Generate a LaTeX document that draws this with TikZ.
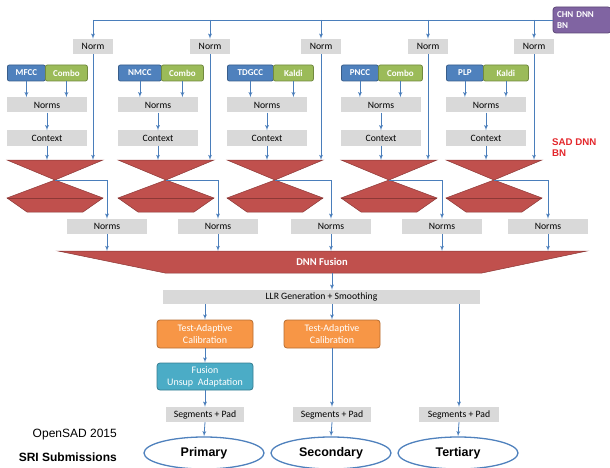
\documentclass[tikz,border=0pt]{standalone}
\usepackage{fontspec}
\setmainfont{Carlito}
\newfontfamily\arialfont{Liberation Sans}
\usetikzlibrary{arrows,shapes.geometric}

\definecolor{normgray}{HTML}{D9D9D9}
\definecolor{featblue}{HTML}{4F81BD}
\definecolor{featblueline}{HTML}{385D8A}
\definecolor{featgreen}{HTML}{9BBB59}
\definecolor{featgreenline}{HTML}{71893F}
\definecolor{calorange}{HTML}{F79646}
\definecolor{calorangeline}{HTML}{B66D31}
\definecolor{adaptteal}{HTML}{4BACC6}
\definecolor{adapttealline}{HTML}{357D91}
\definecolor{chnpurple}{HTML}{8064A2}
\definecolor{chnpurpleline}{HTML}{5C4776}
\definecolor{sadred}{HTML}{C0504D}
\definecolor{sadredline}{HTML}{8C3836}
\definecolor{arrowblue}{HTML}{4A7EBB}
\definecolor{labelred}{HTML}{E3262B}

% bottleneck net: #1 = left edge, #2 = name of the waist
\newcommand{\SadNet}[2]{%
\filldraw[fill=sadred, draw=sadredline, line width=0.5pt] (#1,160) coordinate (#2t) -- ++(96,0) -- ++(-48,20) coordinate (#2) -- cycle;
\filldraw[fill=sadred, draw=sadredline, line width=0.5pt] (#2) -- ++(48,18) -- ++(-20,14) -- ++(-56,0) -- ++(-20,-14) -- cycle;
\draw[sadredline, line width=0.8pt] (#1,198) -- ++(96,0);
}

\begin{document}
\begin{tikzpicture}[x=1pt, y=-1pt]
\tikzstyle{NormBox}=[
fill = normgray,
inner sep = 0pt,
minimum height = 15pt,
font = \fontsize{9.7}{11}\selectfont]
\tikzstyle{FeatA}=[
fill = featblue, draw = featblueline,
line width = 0.8pt, rounded corners = 2pt,
anchor = west, minimum height = 16pt, inner sep = 0pt,
text = white, font = \fontsize{9}{10}\selectfont\bfseries]
\tikzstyle{FeatB}=[FeatA, fill = featgreen, draw = featgreenline]
\tikzstyle{CalBox}=[
fill = calorange, draw = calorangeline,
line width = 0.8pt, rounded corners = 3pt,
minimum width = 96pt, minimum height = 28pt, inner sep = 0pt,
align = center, text = white, font = \fontsize{10}{12}\selectfont]
\tikzstyle{AdaptBox}=[CalBox, fill = adaptteal, draw = adapttealline, minimum height = 27pt]
\tikzstyle{Submission}=[
shape = ellipse, draw = featblue, fill = white,
line width = 1.3pt, minimum width = 120pt, minimum height = 32pt,
font = \arialfont\bfseries\fontsize{12.5}{14}\selectfont]
\tikzstyle{Conn}=[draw = arrowblue, line width = 0.8pt]
\tikzstyle{Arr}=[Conn, -latex']

\useasboundingbox (0,0) rectangle (610,468);

% bottleneck nets
\SadNet{7}{sad1}
\SadNet{118}{sad2}
\SadNet{227}{sad3}
\SadNet{341}{sad4}
\SadNet{446}{sad5}

% CHN net and its norms
\node[fill = chnpurple, draw = chnpurpleline, line width = 0.8pt, rounded corners = 3pt,
minimum width = 58pt, minimum height = 26pt, inner sep = 0pt, text width = 50pt,
align = left, text = white, font = \bfseries\fontsize{9}{11}\selectfont] (chn) at (582,20) {CHN DNN\\BN};
\node[NormBox, minimum width = 40pt] (tn1) at (93,46.5) {Norm};
\node[NormBox, minimum width = 40pt] (tn2) at (210,46.5) {Norm};
\node[NormBox, minimum width = 40pt] (tn3) at (321,46.5) {Norm};
\node[NormBox, minimum width = 40pt] (tn4) at (428,46.5) {Norm};
\node[NormBox, minimum width = 40pt] (tn5) at (534,46.5) {Norm};

% features
\node[FeatA, minimum width = 38pt] (fa1) at (7,73) {MFCC};
\node[FeatB, minimum width = 42pt] (fb1) at (45,73) {Combo};
\node[FeatA, minimum width = 43pt] (fa2) at (118,73) {NMCC};
\node[FeatB, minimum width = 42pt] (fb2) at (161,73) {Combo};
\node[FeatA, minimum width = 46pt] (fa3) at (227,73) {TDGCC};
\node[FeatB, minimum width = 40pt] (fb3) at (273,73) {Kaldi};
\node[FeatA, minimum width = 37pt] (fa4) at (341,73) {PNCC};
\node[FeatB, minimum width = 44pt] (fb4) at (378,73) {Combo};
\node[FeatA, minimum width = 37pt] (fa5) at (446,73) {PLP};
\node[FeatB, minimum width = 45pt] (fb5) at (483,73) {Kaldi};

\node[NormBox, minimum width = 80pt] (nm1) at (47,105) {Norms};
\node[NormBox, minimum width = 80pt] (nm2) at (158,105) {Norms};
\node[NormBox, minimum width = 80pt] (nm3) at (267,105) {Norms};
\node[NormBox, minimum width = 80pt] (nm4) at (381,105) {Norms};
\node[NormBox, minimum width = 80pt] (nm5) at (486,105) {Norms};
\node[NormBox, minimum width = 80pt] (cx1) at (47,138) {Context};
\node[NormBox, minimum width = 80pt] (cx2) at (158,138) {Context};
\node[NormBox, minimum width = 80pt] (cx3) at (267,138) {Context};
\node[NormBox, minimum width = 80pt] (cx4) at (381,138) {Context};
\node[NormBox, minimum width = 80pt] (cx5) at (486,138) {Context};

\node[anchor = north west, align = left, inner sep = 0pt, text = labelred,
font = \arialfont\bfseries\fontsize{9.7}{11}\selectfont] (sadlbl) at (552,139) {SAD DNN\\BN};

\node[NormBox, minimum width = 80pt] (ln1) at (107,226.5) {Norms};
\node[NormBox, minimum width = 80pt] (ln2) at (218,226.5) {Norms};
\node[NormBox, minimum width = 80pt] (ln3) at (331,226.5) {Norms};
\node[NormBox, minimum width = 80pt] (ln4) at (442,226.5) {Norms};
\node[NormBox, minimum width = 80pt] (ln5) at (548,226.5) {Norms};

% fusion
\filldraw[fill = sadred, draw = sadredline, line width = 0.5pt] (58,251) coordinate (fust) -- (587,251) -- (482,273) -- (165,273) -- cycle;
\node[text = white, font = \bfseries\fontsize{10.5}{12}\selectfont] (fus) at (322,262) {DNN Fusion};
\coordinate (fusb) at (332,273);

\node[NormBox, minimum width = 317pt, minimum height = 14pt] (llr) at (321.5,297) {LLR Generation + Smoothing};
\node[CalBox] (cal1) at (205,334) {Test-Adaptive\\Calibration};
\node[CalBox] (cal2) at (332,334) {Test-Adaptive\\Calibration};
\node[AdaptBox] (adapt1) at (205,376.5) {Fusion\\Unsup\ \ Adaptation};
\node[NormBox, minimum width = 78pt] (seg1) at (205,414.5) {Segments + Pad};
\node[NormBox, minimum width = 78pt] (seg2) at (332,414.5) {Segments + Pad};
\node[NormBox, minimum width = 80pt] (seg3) at (459,414.5) {Segments + Pad};
\node[Submission] (sub1) at (204,453) {Primary};
\node[Submission] (sub2) at (331,453) {Secondary};
\node[Submission] (sub3) at (458,453) {Tertiary};

\node[anchor = east, inner sep = 0pt, font = \arialfont\fontsize{12}{14}\selectfont] (osad) at (117,435) {OpenSAD 2015};
\node[anchor = east, inner sep = 0pt, font = \arialfont\bfseries\fontsize{12}{14}\selectfont] (sri) at (117,457) {SRI Submissions};

% connectors
\draw[Conn] (chn.west) -- (tn1.north |- chn.west);
\draw[Arr] (tn1.north |- chn.west) -- (tn1.north);
\draw[Arr] (tn2.north |- chn.west) -- (tn2.north);
\draw[Arr] (tn3.north |- chn.west) -- (tn3.north);
\draw[Arr] (tn4.north |- chn.west) -- (tn4.north);
\draw[Arr] (tn5.north |- chn.west) -- (tn5.north);
\draw[Arr] (tn1.south) -- (tn1.south |- sad1t);
\draw[Arr] (tn2.south) -- (tn2.south |- sad2t);
\draw[Arr] (tn3.south) -- (tn3.south |- sad3t);
\draw[Arr] (tn4.south) -- (tn4.south |- sad4t);
\draw[Arr] (tn5.south) -- (tn5.south |- sad5t);

\draw[Arr] (fa1.south) -- (fa1.south |- nm1.north);
\draw[Arr] (fb1.south) -- (fb1.south |- nm1.north);
\draw[Arr] (fa2.south) -- (fa2.south |- nm2.north);
\draw[Arr] (fb2.south) -- (fb2.south |- nm2.north);
\draw[Arr] (fa3.south) -- (fa3.south |- nm3.north);
\draw[Arr] (fb3.south) -- (fb3.south |- nm3.north);
\draw[Arr] (fa4.south) -- (fa4.south |- nm4.north);
\draw[Arr] (fb4.south) -- (fb4.south |- nm4.north);
\draw[Arr] (fa5.south) -- (fa5.south |- nm5.north);
\draw[Arr] (fb5.south) -- (fb5.south |- nm5.north);

\draw[Arr] (nm1.south) -- (cx1.north);
\draw[Arr] (nm2.south) -- (cx2.north);
\draw[Arr] (nm3.south) -- (cx3.north);
\draw[Arr] (nm4.south) -- (cx4.north);
\draw[Arr] (nm5.south) -- (cx5.north);
\draw[Arr] (cx1.south) -- (cx1.south |- sad1t);
\draw[Arr] (cx2.south) -- (cx2.south |- sad2t);
\draw[Arr] (cx3.south) -- (cx3.south |- sad3t);
\draw[Arr] (cx4.south) -- (cx4.south |- sad4t);
\draw[Arr] (cx5.south) -- (cx5.south |- sad5t);

\draw[Arr] (sad1) -| (ln1.north);
\draw[Arr] (sad2) -| (ln2.north);
\draw[Arr] (sad3) -| (ln3.north);
\draw[Arr] (sad4) -| (ln4.north);
\draw[Arr] (sad5) -| (ln5.north);
\draw[Arr] (ln1.south) -- (ln1.south |- fust);
\draw[Arr] (ln2.south) -- (ln2.south |- fust);
\draw[Arr] (ln3.south) -- (ln3.south |- fust);
\draw[Arr] (ln4.south) -- (ln4.south |- fust);
\draw[Arr] (ln5.south) -- (ln5.south |- fust);

\draw[Arr] (fusb) -- (fusb |- llr.north);
\draw[Arr] (cal1.north |- llr.south) -- (cal1.north);
\draw[Arr] (cal2.north |- llr.south) -- (cal2.north);
\draw[Arr] (seg3.north |- llr.south) -- (seg3.north);
\draw[Arr] (cal1.south) -- (adapt1.north);
\draw[Arr] (adapt1.south) -- (seg1.north);
\draw[Arr] (cal2.south) -- (seg2.north);
\draw[Arr] (seg1.south) -- (sub1.north);
\draw[Arr] (seg2.south) -- (sub2.north);
\draw[Arr] (seg3.south) -- (sub3.north);
\end{tikzpicture}
\end{document}
